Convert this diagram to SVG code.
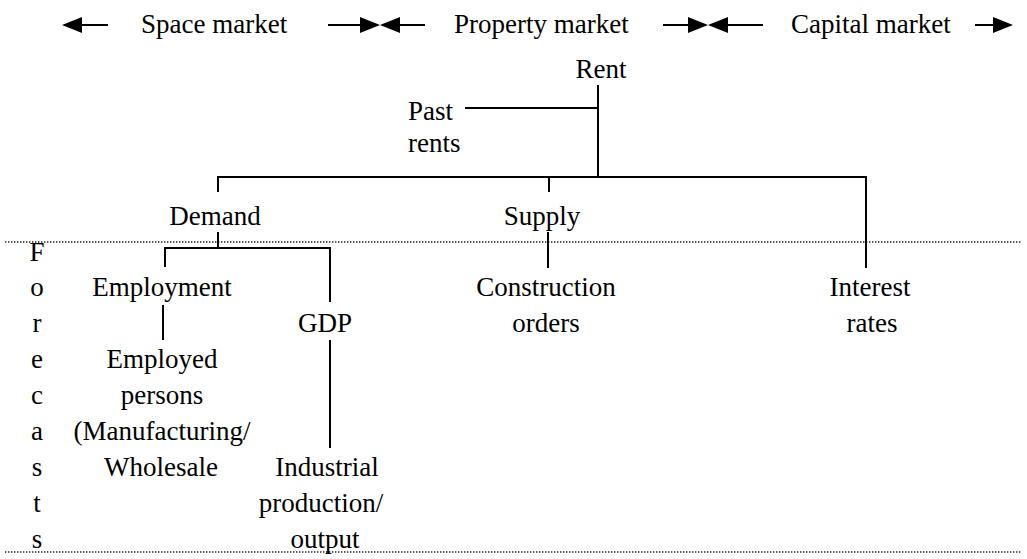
<svg xmlns="http://www.w3.org/2000/svg" width="1027" height="559" viewBox="0 0 1027 559">
  <style>
    text { font-family: "Liberation Serif", "Times New Roman", serif; font-size: 27px; fill: #000; }
    .c { text-anchor: middle; }
    .ln { stroke: #000; stroke-width: 2; fill: none; }
    .dot { stroke: #222; stroke-width: 1.6; stroke-dasharray: 1.4 1.6; fill: none; }
    .head { fill: #000; }
  </style>

  <!-- market bands along the top -->
  <g id="market-bands">
    <line class="ln" x1="80" y1="25" x2="108" y2="25"/>
    <polygon class="head" points="62,25 82,17 82,33"/>
    <text x="141" y="33">Space market</text>

    <line class="ln" x1="328" y1="25" x2="362" y2="25"/>
    <polygon class="head" points="380,25 360,17 360,33"/>
    <polygon class="head" points="380,25 400,17 400,33"/>
    <line class="ln" x1="398" y1="25" x2="425" y2="25"/>
    <text x="454" y="33">Property market</text>

    <line class="ln" x1="663" y1="25" x2="690" y2="25"/>
    <polygon class="head" points="708,25 688,17 688,33"/>
    <polygon class="head" points="708,25 728,17 728,33"/>
    <line class="ln" x1="726" y1="25" x2="763" y2="25"/>
    <text x="791" y="33">Capital market</text>

    <line class="ln" x1="975" y1="25" x2="995" y2="25"/>
    <polygon class="head" points="1013,25 993,17 993,33"/>
  </g>

  <!-- forecast zone boundaries -->
  <g id="forecast-zone">
    <line class="dot" x1="5" y1="242" x2="1022" y2="242"/>
    <line class="dot" x1="5" y1="552" x2="1022" y2="552"/>
    <g id="forecasts-label" class="c">
      <text x="37" y="261">F</text>
      <text x="37" y="296">o</text>
      <text x="37" y="332">r</text>
      <text x="37" y="368">e</text>
      <text x="37" y="404">c</text>
      <text x="37" y="440">a</text>
      <text x="37" y="476">s</text>
      <text x="37" y="512">t</text>
      <text x="37" y="548">s</text>
    </g>
  </g>

  <!-- connectors -->
  <g id="connectors">
    <line class="ln" x1="598" y1="85" x2="598" y2="177"/>
    <line class="ln" x1="465" y1="108" x2="598" y2="108"/>
    <line class="ln" x1="217" y1="177" x2="867" y2="177"/>
    <line class="ln" x1="218" y1="177" x2="218" y2="192"/>
    <line class="ln" x1="549" y1="177" x2="549" y2="192"/>
    <line class="ln" x1="866" y1="177" x2="866" y2="268"/>

    <line class="ln" x1="218" y1="232" x2="218" y2="248"/>
    <line class="ln" x1="164" y1="248" x2="331" y2="248"/>
    <line class="ln" x1="165" y1="248" x2="165" y2="267"/>
    <line class="ln" x1="330" y1="248" x2="330" y2="302"/>

    <line class="ln" x1="163" y1="305" x2="163" y2="340"/>
    <line class="ln" x1="330" y1="340" x2="330" y2="448"/>
    <line class="ln" x1="548" y1="232" x2="548" y2="268"/>
  </g>

  <!-- nodes -->
  <g id="rent"><text class="c" x="601" y="78">Rent</text></g>
  <g id="past-rents">
    <text x="408" y="120">Past</text>
    <text x="408" y="152">rents</text>
  </g>
  <g id="demand"><text class="c" x="215" y="225">Demand</text></g>
  <g id="supply"><text class="c" x="542" y="225">Supply</text></g>
  <g id="employment"><text class="c" x="162" y="296">Employment</text></g>
  <g id="gdp"><text class="c" x="325" y="332">GDP</text></g>
  <g id="construction-orders">
    <text class="c" x="546" y="296">Construction</text>
    <text class="c" x="546" y="332">orders</text>
  </g>
  <g id="interest-rates">
    <text class="c" x="870" y="296">Interest</text>
    <text class="c" x="872" y="332">rates</text>
  </g>
  <g id="employed-persons">
    <text class="c" x="162" y="368">Employed</text>
    <text class="c" x="162" y="404">persons</text>
    <text class="c" x="162" y="440">(Manufacturing/</text>
    <text class="c" x="161" y="476">Wholesale</text>
  </g>
  <g id="industrial-production">
    <text class="c" x="327" y="476">Industrial</text>
    <text class="c" x="321" y="512">production/</text>
    <text class="c" x="325" y="548">output</text>
  </g>
</svg>
